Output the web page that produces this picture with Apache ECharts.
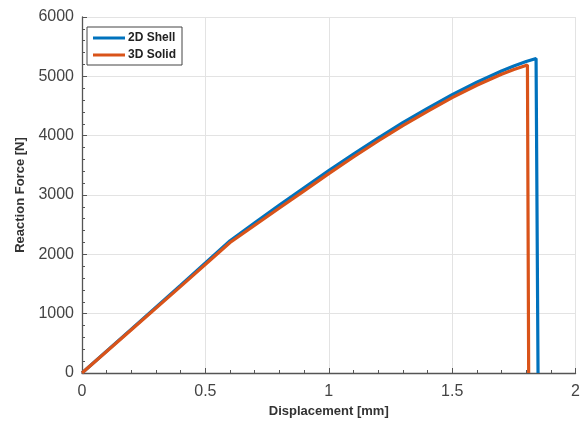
<!DOCTYPE html>
<html><head><meta charset="utf-8">
<script src="https://cdn.jsdelivr.net/npm/echarts@6/dist/echarts.min.js"></script>
<style>html,body{margin:0;padding:0;background:#fff}#c{width:583px;height:423px}</style>
</head><body><div id="c"></div>
<script>
const seriesNames = ['2D Shell', '3D Solid'];
const shellX = [0, 0.2, 0.4, 0.6, 0.7, 0.8, 0.9, 1.0, 1.1, 1.2, 1.3, 1.4, 1.5, 1.6, 1.7, 1.75, 1.8, 1.84, 1.848];
const shellY = [0, 740, 1480, 2230, 2530, 2830, 3120, 3410, 3690, 3960, 4220, 4460, 4690, 4900, 5090, 5175, 5250, 5300, 0];
const solidX = [0, 0.2, 0.4, 0.6, 0.7, 0.8, 0.9, 1.0, 1.1, 1.2, 1.3, 1.4, 1.5, 1.6, 1.7, 1.75, 1.805, 1.81];
const solidY = [0, 730, 1460, 2200, 2490, 2780, 3070, 3360, 3640, 3910, 4170, 4410, 4640, 4850, 5035, 5115, 5190, 0];
const xTicks = [0, 0.5, 1, 1.5, 2];
const yTicks = [0, 1000, 2000, 3000, 4000, 5000, 6000];

const zip = (xs, ys) => xs.map((x, i) => [x, ys[i]]);
const font = '"Liberation Sans", Arial, sans-serif';
const chart = echarts.init(document.getElementById('c'));
const axisCommon = {
  axisLine: {show: true, lineStyle: {color: '#555', width: 1.3}},
  axisTick: {show: true, inside: true, length: 5, lineStyle: {color: '#555'}},
  minorTick: {show: true, splitNumber: 5, length: 3, lineStyle: {color: '#555'}},
  splitLine: {show: true, lineStyle: {color: '#e3e3e3', width: 1}},
  axisLabel: {color: '#444', fontSize: 16, fontFamily: font},
  nameTextStyle: {color: '#333', fontSize: 13, fontWeight: 'bold', fontFamily: font}
};
chart.setOption({
  animation: false,
  grid: {left: 82, right: 6, top: 17, bottom: 47},
  legend: {
    orient: 'vertical', left: 87, top: 27,
    data: seriesNames,
    backgroundColor: '#fff', borderColor: '#444', borderWidth: 1,
    padding: [5, 6, 4, 6], itemGap: 5,
    itemWidth: 32, itemHeight: 3, icon: 'rect',
    textStyle: {fontSize: 12, fontWeight: 'bold', color: '#222', fontFamily: font, padding: [0, 0, 0, -2]}
  },
  xAxis: Object.assign({}, axisCommon, {
    type: 'value', min: 0, max: 2, interval: 0.5,
    name: 'Displacement [mm]', nameLocation: 'middle', nameGap: 32,
    axisLabel: Object.assign({}, axisCommon.axisLabel, {margin: 11,
      formatter: v => xTicks.includes(v) ? String(v) : ''})
  }),
  yAxis: Object.assign({}, axisCommon, {
    type: 'value', min: 0, max: 6000, interval: 1000,
    name: 'Reaction Force [N]', nameLocation: 'middle', nameGap: 55,
    axisLabel: Object.assign({}, axisCommon.axisLabel, {margin: 8,
      formatter: v => yTicks.includes(v) ? String(v) : ''})
  }),
  series: [
    {name: seriesNames[0], type: 'line', data: zip(shellX, shellY), showSymbol: false, smooth: false,
     lineStyle: {color: '#0072BD', width: 3.2}, itemStyle: {color: '#0072BD'}, z: 2},
    {name: seriesNames[1], type: 'line', data: zip(solidX, solidY), showSymbol: false, smooth: false,
     lineStyle: {color: '#D95319', width: 3.2}, itemStyle: {color: '#D95319'}, z: 3}
  ]
});
</script></body></html>
